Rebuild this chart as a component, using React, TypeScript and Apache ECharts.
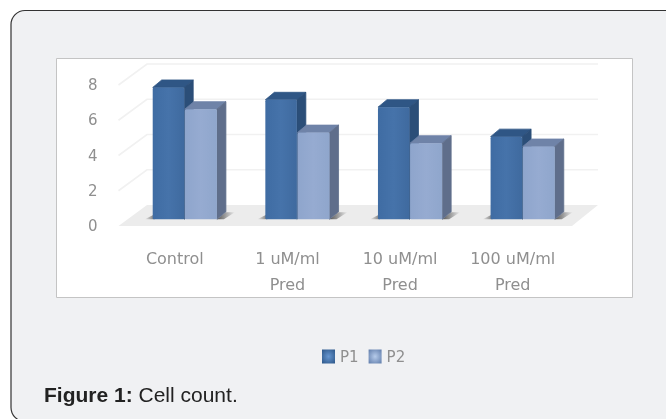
import React, { useEffect, useRef } from "react";
import * as echarts from "echarts";

const categories = ["Control", "1 uM/ml\nPred", "10 uM/ml\nPred", "100 uM/ml\nPred"];
const p1Values = [7.48, 6.78, 6.36, 4.69];
const p2Values = [6.25, 4.92, 4.32, 4.13];
const tickValues = [0, 2, 4, 6, 8];

const DY = 21;
const BACK_LEFT_DX = 28.5;
const FRONT_RIGHT_EXTRA = 3;
const BACK_RIGHT_DX = 29;
const BAR_DX = 10;
const BAR_DY = 6.7;
const SIDE_DX = 9;
const SIDE_DY = 7.5;

const fade = (a: string, b: string) => ({
  type: "linear",
  x: 0,
  y: 0,
  x2: 1,
  y2: 0,
  colorStops: [
    { offset: 0, color: a },
    { offset: 1, color: b },
  ],
});

function barRenderer(side: number, front: any, sideColor: string, topColor: string, shadow: boolean) {
  return (params: any, api: any) => {
    const c = api.coord([api.value(0), api.value(1)]);
    const b = api.coord([api.value(0), 0]);
    const w = api.size([1, 0])[0] * 0.285;
    const x0 = c[0] + BAR_DX + (side === 0 ? -w : 0);
    const x1 = x0 + w - (side === 0 ? 0.6 : 0);
    const y0 = c[1] - BAR_DY;
    const y1 = b[1] - BAR_DY;
    const children: any[] = [];
    if (shadow) {
      children.push({
        type: "polygon",
        shape: {
          points: [
            [x1, y1],
            [x1 + 9, y1 - 7],
            [x1 + 18, y1 - 7],
            [x1 + 7, y1],
          ],
        },
        style: { fill: fade("rgba(60,60,60,0.85)", "rgba(60,60,60,0)") },
      });
    } else {
      children.push({
        type: "polygon",
        shape: {
          points: [
            [x0 - 8, y1],
            [x0 + 2, y1 - 5],
            [x0 + 2, y1],
          ],
        },
        style: { fill: fade("rgba(70,70,70,0)", "rgba(70,70,70,0.7)") },
      });
    }
    children.push(
      {
        type: "polygon",
        shape: {
          points: [
            [x0, y0],
            [x0 + SIDE_DX, y0 - SIDE_DY],
            [x1 + SIDE_DX, y0 - SIDE_DY],
            [x1, y0],
          ],
        },
        style: { fill: topColor, stroke: topColor, lineWidth: 0.8, lineJoin: "round" },
      },
      {
        type: "polygon",
        shape: {
          points: [
            [x1, y0],
            [x1 + SIDE_DX, y0 - SIDE_DY],
            [x1 + SIDE_DX, y1 - SIDE_DY],
            [x1, y1],
          ],
        },
        style: { fill: sideColor, stroke: sideColor, lineWidth: 0.8, lineJoin: "round" },
      },
      {
        type: "rect",
        shape: { x: x0, y: y0, width: x1 - x0, height: y1 - y0, r: [1.5, 1.5, 1, 1] },
        style: { fill: front },
      },
    );
    return { type: "group", children };
  };
}

function floorRenderer(params: any, api: any) {
  const v = api.value(0);
  const p = api.coord([0, v]);
  const half = api.size([1, 0])[0] / 2;
  const left = p[0] - half;
  const right = api.coord([categories.length - 1, v])[0] + half + FRONT_RIGHT_EXTRA;
  const y = p[1];
  if (v === 0) {
    return {
      type: "polygon",
      shape: {
        points: [
          [left, y],
          [left + BACK_LEFT_DX, y - DY],
          [right + BACK_RIGHT_DX - FRONT_RIGHT_EXTRA, y - DY],
          [right, y],
        ],
      },
      style: { fill: "#ececec" },
    };
  }
  return {
    type: "polyline",
    shape: {
      points: [
        [left, y],
        [left + BACK_LEFT_DX, y - DY],
        [right + BACK_RIGHT_DX - FRONT_RIGHT_EXTRA, y - DY],
      ],
    },
    style: { fill: "none", stroke: "#f1f1f1", lineWidth: 1.6 },
  };
}

const hbar = (a: string, b: string, c: string) => ({
  type: "linear",
  x: 0,
  y: 0,
  x2: 1,
  y2: 0,
  colorStops: [
    { offset: 0, color: a },
    { offset: 0.5, color: b },
    { offset: 1, color: c },
  ],
});

export default function App() {
  const ref = useRef<HTMLDivElement>(null);
  useEffect(() => {
    const chart = echarts.init(ref.current!, null, { renderer: "svg" });
    const font = "DejaVu Sans";
    chart.setOption({
      animation: false,
      backgroundColor: "#ffffff",
      graphic: [
        {
          type: "rect",
          z: -10,
          silent: true,
          shape: { x: 11, y: 10.5, width: 720, height: 411, r: 14 },
          style: { fill: "#f0f1f3", stroke: "#333333", lineWidth: 1.2 },
        },
        {
          type: "rect",
          z: -9,
          silent: true,
          shape: { x: 56.5, y: 58.5, width: 576, height: 239 },
          style: { fill: "#ffffff", stroke: "#c4c4c4", lineWidth: 1 },
        },
        {
          type: "text",
          z: 5,
          silent: true,
          x: 44,
          y: 394,
          style: {
            text: "{b|Figure 1: }{n|Cell count.}",
            verticalAlign: "middle",
            rich: {
              b: { fontFamily: "Liberation Sans", fontSize: 21, fontWeight: "bold", fill: "#222222" },
              n: { fontFamily: "Liberation Sans", fontSize: 21, fill: "#222222" },
            },
          },
        },
      ],
      legend: {
        left: 322,
        top: 349,
        padding: 0,
        itemWidth: 13,
        itemHeight: 14,
        itemGap: 10,
        icon: "rect",
        selectedMode: false,
        textStyle: { color: "#8f8f8f", fontFamily: font, fontSize: 15, lineHeight: 14 },
        data: [
          {
            name: "P1",
            itemStyle: {
              color: { type: "radial", x: 0.5, y: 0.5, r: 0.7, colorStops: [{ offset: 0, color: "#6696d0" }, { offset: 1, color: "#2c5688" }] },
            },
          },
          {
            name: "P2",
            itemStyle: {
              color: { type: "radial", x: 0.5, y: 0.5, r: 0.7, colorStops: [{ offset: 0, color: "#b6cbea" }, { offset: 1, color: "#5f7caa" }] },
            },
          },
        ],
      },
      grid: { left: 118.5, right: 97, top: 85, bottom: 193 },
      xAxis: {
        type: "category",
        data: categories,
        axisLine: { show: false },
        axisTick: { show: false },
        axisLabel: { color: "#8f8f8f", fontFamily: font, fontSize: 16, lineHeight: 26, margin: 19, interval: 0 },
      },
      yAxis: {
        type: "value",
        min: 0,
        max: 8,
        interval: 2,
        axisLine: { show: false },
        axisTick: { show: false },
        splitLine: { show: false },
        axisLabel: { color: "#8f8f8f", fontFamily: font, fontSize: 15, margin: 21, padding: [3, 0, 0, 0] },
      },
      series: [
        {
          name: "floor",
          type: "custom",
          z: 1,
          silent: true,
          clip: false,
          encode: { y: 0 },
          data: tickValues.map((v) => [v]),
          renderItem: floorRenderer,
        },
        {
          name: "P1",
          type: "custom",
          z: 2,
          clip: false,
          encode: { x: 0, y: 1 },
          data: p1Values.map((v, i) => [i, v]),
          itemStyle: { color: "#4472a8" },
          renderItem: barRenderer(0, hbar("#3f6ca3", "#4673aa", "#3f6a9f"), "#2b4e78", "#2f5685", false),
        },
        {
          name: "P2",
          type: "custom",
          z: 3,
          clip: false,
          encode: { x: 0, y: 1 },
          data: p2Values.map((v, i) => [i, v]),
          itemStyle: { color: "#93a9cf" },
          renderItem: barRenderer(1, hbar("#8ea5cc", "#96abd1", "#8fa6cc"), "#5f6e8b", "#6f83a8", true),
        },
      ],
    });
    return () => chart.dispose();
  }, []);
  return <div ref={ref} style={{ position: "fixed", left: 0, top: 0, width: 666, height: 419, filter: "blur(0.4px)" }} />;
}
